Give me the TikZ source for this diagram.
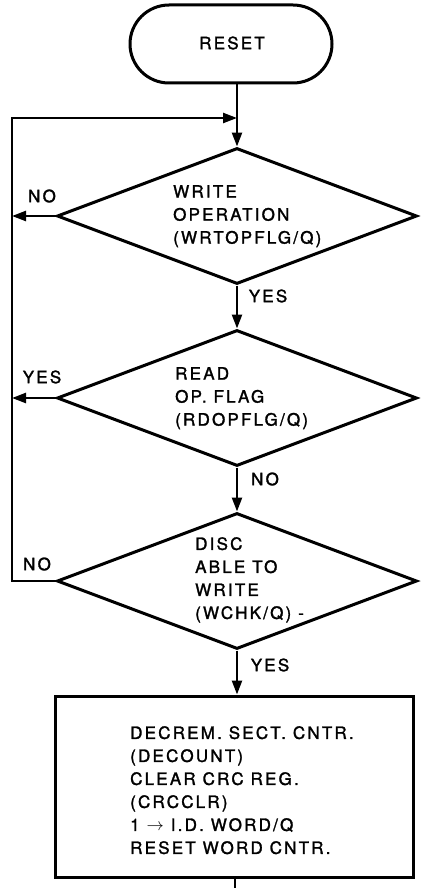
\documentclass[tikz,border=0pt]{standalone}
\usepackage{fontspec}
\setmainfont{TeX Gyre Heros}[LetterSpace=13,FakeBold=1.6]
\usetikzlibrary{shapes.geometric,arrows.meta}
\begin{document}
\begin{tikzpicture}[x=1pt,y=-1pt,
  every node/.style={inner sep=0pt},
  txt/.style={font=\fontsize{17}{23}\selectfont},
  shapeline/.style={draw=black,line width=3pt},
  decision/.style={shapeline,diamond,minimum width=360pt,minimum height=136pt},
  terminal/.style={shapeline,rectangle,rounded corners=39pt,minimum width=202pt,minimum height=78pt},
  process/.style={shapeline,rectangle,minimum width=358pt,minimum height=181pt},
  conn/.style={draw=black,line width=2.4pt},
  arr/.style={conn,-{Triangle[length=14pt,width=10pt]}},
  blocktext/.style={txt,align=left,anchor=north west},
  lbl/.style={txt}]
\useasboundingbox (0,0) rectangle (422,888);
% shapes
\node[terminal] (reset) at (231,44) {};
\node[txt] (resettext) at (232,43) {RESET};
\node[decision] (d1) at (237,216) {};
\node[decision] (d2) at (237,398) {};
\node[decision] (d3) at (237,581) {};
\node[process] (box) at (234,786.5) {};
% texts
\node[blocktext] (t1) at (173,185) {WRITE\\OPERATION\\(WRTOPFLG/Q)};
\node[blocktext] (t2) at (175,367) {READ\\OP. FLAG\\(RDOPFLG/Q)};
\node[blocktext] (t3) at (195,537) {DISC\\ABLE TO\\WRITE\\(WCHK/Q) -};
\node[blocktext] (t4) at (130,726) {DECREM. SECT. CNTR.\\(DECOUNT)\\CLEAR CRC REG.\\(CRCCLR)\\1 $\rightarrow$ I.D. WORD/Q\\RESET WORD CNTR.};
% coordinates
\coordinate (join) at (237,118);
\coordinate (loopTop) at (12,118);
\coordinate (loopBot) at (12,581);
\coordinate (exit) at (235,888);
% connectors
\draw[arr] (reset.south -| d1.north) -- (d1.north);
\draw[arr] (d1.south) -- (d2.north);
\draw[arr] (d2.south) -- (d3.north);
\draw[arr] (d3.south) -- (box.north -| d3.south);
\draw[conn] (box.south -| exit) -- (exit);
\draw[arr] (d1.west) -- (d1.west -| loopTop);
\draw[arr] (d2.west) -- (d2.west -| loopTop);
\draw[arr] (d3.west) -- (loopBot) -- (loopTop) -- (join);
% labels
\node[lbl] (l1) at (268,296) {YES};
\node[lbl] (l2) at (265,479) {NO};
\node[lbl] (l3) at (270,665) {YES};
\node[lbl] (l4) at (42,196) {NO};
\node[lbl] (l5) at (42,377) {YES};
\node[lbl] (l6) at (37,564) {NO};
\end{tikzpicture}
\end{document}
